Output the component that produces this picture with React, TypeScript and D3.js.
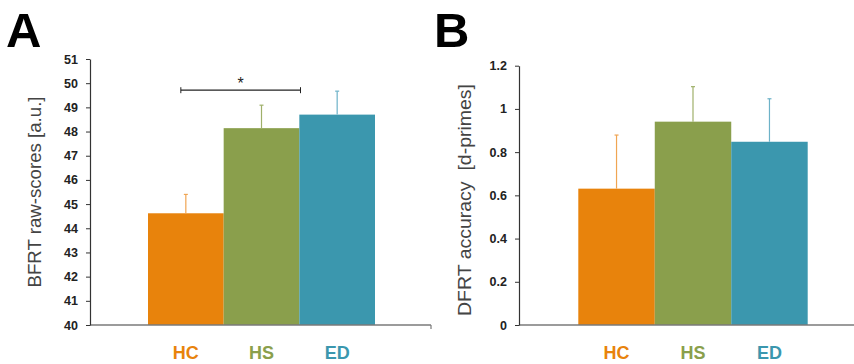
import React, { useEffect, useRef } from 'react';
import * as d3 from 'd3';

// groups
const groups = ['HC', 'HS', 'ED'];
const groupColors = ['#E8830C', '#8A9F4C', '#3B97AE'];
const errColors = ['#F0A552', '#9FB06A', '#6DB2C8'];

// panel A: BFRT raw scores
const bfrtMean = [44.62, 48.14, 48.7];
const bfrtErr = [0.78, 0.95, 0.97];
const bfrtTicks = [40, 41, 42, 43, 44, 45, 46, 47, 48, 49, 50, 51];

// panel B: DFRT d-primes
const dfrtMean = [0.631, 0.941, 0.848];
const dfrtErr = [0.248, 0.162, 0.199];
const dfrtTicks = [0, 0.2, 0.4, 0.6, 0.8, 1, 1.2];

const sigPair = ['HC', 'HS'];
const sigLevel = 49.71;

function App() {
  const ref = useRef<SVGSVGElement>(null);

  useEffect(() => {
    const svg = d3.select(ref.current);
    svg.selectAll('*').remove();

    const font = '"Liberation Sans", Arial, sans-serif';

    function panel(opts: any) {
      const g = svg.append('g');
      const { x, y, axisX, axisEnd, means, errs, ticks, fmt, title, titleX, titleY, titleLen, letter, letterX, bottomTick } = opts;

      // bars
      g.selectAll('rect.bar')
        .data(means)
        .enter()
        .append('rect')
        .attr('x', (d: any, i: number) => x(groups[i]))
        .attr('y', (d: any) => y(d))
        .attr('width', x.bandwidth())
        .attr('height', (d: any) => y.range()[0] - y(d))
        .attr('fill', (d: any, i: number) => groupColors[i]);

      // error bars (upper only)
      means.forEach((m: number, i: number) => {
        const cx = x(groups[i]) + x.bandwidth() / 2;
        g.append('line')
          .attr('x1', cx).attr('x2', cx)
          .attr('y1', y(m)).attr('y2', y(m + errs[i]))
          .attr('stroke', errColors[i]).attr('stroke-width', 1.2);
        g.append('line')
          .attr('x1', cx - 2).attr('x2', cx + 2)
          .attr('y1', y(m + errs[i])).attr('y2', y(m + errs[i]))
          .attr('stroke', errColors[i]).attr('stroke-width', 1.2);
      });

      // x axis line
      const base = y.range()[0];
      g.append('line')
        .attr('x1', axisX).attr('x2', axisEnd)
        .attr('y1', base).attr('y2', base)
        .attr('stroke', '#7a7a7a').attr('stroke-width', 1.5);
      if (bottomTick) {
        g.append('line')
          .attr('x1', axisEnd).attr('x2', axisEnd)
          .attr('y1', base).attr('y2', base + 4)
          .attr('stroke', '#7a7a7a').attr('stroke-width', 1.2);
      }

      // y axis
      const yAxis = d3.axisLeft(y)
        .tickValues(ticks)
        .tickFormat(fmt)
        .tickSize(4)
        .tickSizeOuter(0)
        .tickPadding(8);
      const ya = g.append('g')
        .attr('transform', `translate(${axisX},0)`)
        .call(yAxis);
      ya.select('.domain').attr('stroke', '#333').attr('stroke-width', 1.2);
      ya.selectAll('.tick line').attr('stroke', '#333');
      ya.selectAll('.tick text')
        .attr('font-family', font)
        .attr('font-size', 12.5)
        .attr('font-weight', 'bold')
        .attr('fill', '#222');

      // category labels
      g.selectAll('text.cat')
        .data(groups)
        .enter()
        .append('text')
        .attr('x', (d: string) => x(d) + x.bandwidth() / 2)
        .attr('y', 359)
        .attr('text-anchor', 'middle')
        .attr('font-family', font)
        .attr('font-weight', 'bold')
        .attr('font-size', 18)
        .attr('fill', (d: string, i: number) => groupColors[i])
        .text((d: string) => d);

      // y title
      g.append('text')
        .attr('transform', `translate(${titleX},${titleY}) rotate(-90)`)
        .attr('text-anchor', 'middle')
        .attr('font-family', font)
        .attr('font-size', 19)
        .attr('textLength', titleLen)
        .attr('lengthAdjust', 'spacingAndGlyphs')
        .attr('fill', '#444')
        .style('white-space', 'pre')
        .text(title);

      // panel letter
      g.append('text')
        .attr('x', letterX)
        .attr('y', 47)
        .attr('font-family', font)
        .attr('font-weight', 'bold')
        .attr('font-size', 49)
        .attr('fill', '#000')
        .text(letter);
      return g;
    }

    const xA = d3.scaleBand().domain(groups).range([148, 375]).padding(0);
    const yA = d3.scaleLinear().domain([40, 51]).range([325, 59]);
    const gA = panel({
      x: xA, y: yA, axisX: 90, axisEnd: 431, means: bfrtMean, errs: bfrtErr,
      ticks: bfrtTicks, fmt: d3.format('d'), title: 'BFRT raw-scores [a.u.]',
      titleX: 41, titleY: 192, titleLen: 191, letter: 'A', letterX: 6, bottomTick: true,
    });

    // significance bracket
    const sx1 = xA(sigPair[0])! + xA.bandwidth() / 2 - 5;
    const sx2 = xA(sigPair[1])! + xA.bandwidth() / 2 + 39;
    const sy = yA(sigLevel);
    gA.append('line').attr('x1', sx1).attr('x2', sx2).attr('y1', sy).attr('y2', sy)
      .attr('stroke', '#222').attr('stroke-width', 1.2);
    [sx1, sx2].forEach((sx) => {
      gA.append('line').attr('x1', sx).attr('x2', sx).attr('y1', sy - 3).attr('y2', sy + 3)
        .attr('stroke', '#222').attr('stroke-width', 1);
    });
    gA.append('text')
      .attr('x', (sx1 + sx2) / 2)
      .attr('y', sy - 1)
      .attr('text-anchor', 'middle')
      .attr('font-family', font)
      .attr('font-size', 16)
      .attr('fill', '#222')
      .text('*');

    const xB = d3.scaleBand().domain(groups).range([578.3, 807.7]).padding(0);
    const yB = d3.scaleLinear().domain([0, 1.2]).range([325, 65.7]);
    panel({
      x: xB, y: yB, axisX: 519, axisEnd: 854, means: dfrtMean, errs: dfrtErr,
      ticks: dfrtTicks, fmt: (d: any) => String(d), title: 'DFRT accuracy  [d-primes]',
      titleX: 471, titleY: 200, titleLen: 232, letter: 'B', letterX: 434, bottomTick: false,
    });
  }, []);

  return (
    <svg
      ref={ref}
      width={854}
      height={364}
      style={{ position: 'absolute', left: 0, top: 0, background: '#fff' }}
    />
  );
}

export default App;
